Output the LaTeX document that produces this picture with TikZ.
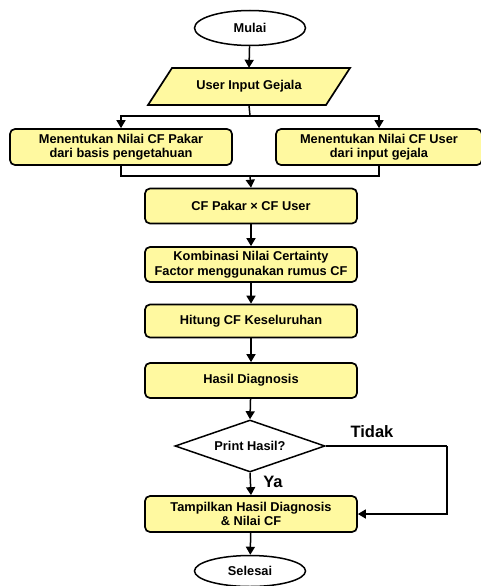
\documentclass[tikz,border=0pt]{standalone}
\usepackage{fontspec}
\setmainfont{Liberation Sans}
\usetikzlibrary{shapes.geometric,arrows.meta}
\definecolor{boxfill}{HTML}{FFF9A0}
\begin{document}
\begin{tikzpicture}[x=1pt,y=-1pt,
  conn/.style={line width=1.5pt,draw=black},
  arr/.style={conn,-{Triangle[width=9pt,length=8pt]}},
  txt/.style={font=\fontsize{12.8}{14.5}\selectfont\bfseries},
  procbox/.style={txt,draw=black,line width=1.7pt,fill=boxfill,rounded corners=5pt,
    minimum width=212pt,minimum height=35pt,align=center,inner sep=1pt},
  term/.style={txt,ellipse,draw=black,line width=1.5pt,fill=white,minimum width=111pt,
    minimum height=35pt,inner sep=0pt},
  lbl/.style={font=\fontsize{16.5}{18}\selectfont\bfseries,inner sep=0pt}]
\useasboundingbox (0,0) rectangle (481,586);
% start
\node[term] (start) at (250,28) {Mulai};
% input parallelogram
\fill[boxfill,draw=black,line width=1.7pt,line join=miter] (172,68) -- (350,68) -- (326,105) -- (148,105) -- cycle;
\node[txt,minimum width=180pt,minimum height=37pt,inner sep=0pt] (inp) at (249,86.5) {User Input Gejala};
% two boxes
\node[procbox,minimum width=222pt,minimum height=36pt] (left) at (121,147) {Menentukan Nilai CF Pakar\\dari basis pengetahuan};
\node[procbox,minimum width=206pt,minimum height=36pt] (right) at (379,147) {Menentukan Nilai CF User\\dari input gejala};
\node[procbox] (cf) at (251,206) {CF Pakar × CF User};
\node[procbox] (komb) at (251,264.5) {Kombinasi Nilai Certainty\\Factor menggunakan rumus CF};
\node[procbox,minimum height=33pt] (hit) at (251,321) {Hitung CF Keseluruhan};
\node[procbox] (has) at (251,380.5) {Hasil Diagnosis};
\node[txt,diamond,shape aspect=2.9,draw=black,line width=1.5pt,fill=white,minimum width=150pt,minimum height=52pt,inner sep=0pt] (dia) at (250,446) {Print Hasil?};
\node[procbox,minimum height=36pt] (tamp) at (251,514) {Tampilkan Hasil Diagnosis\\\& Nilai CF};
\node[term,minimum height=31pt] (end) at (250,571) {Selesai};
% coordinates
\coordinate (s1) at (250,116);
\coordinate (m1) at (250,176);
\coordinate (c1) at (447,446);
% connectors
\draw[arr] (start) -- (inp.north);
\draw[conn] (inp.south) -- (s1);
\draw[arr] (s1) -| (left.north);
\draw[arr] (s1) -| (right.north);
\draw[conn] (left.south) |- (m1);
\draw[conn] (right.south) |- (m1);
\draw[arr] (m1) -- (cf.north);
\draw[arr] (cf) -- (komb);
\draw[arr] (komb) -- (hit);
\draw[arr] (hit) -- (has);
\draw[arr] (has) -- (dia.north);
\draw[arr] (dia.south) -- (tamp.north);
\draw[conn] (dia.east) -- (c1);
\draw[arr] (c1) |- (tamp.east);
\draw[arr] (tamp) -- (end);
% labels
\node[lbl] (tidak) at (372,432) {Tidak};
\node[lbl] (ya) at (273,482) {Ya};
\end{tikzpicture}
\end{document}
